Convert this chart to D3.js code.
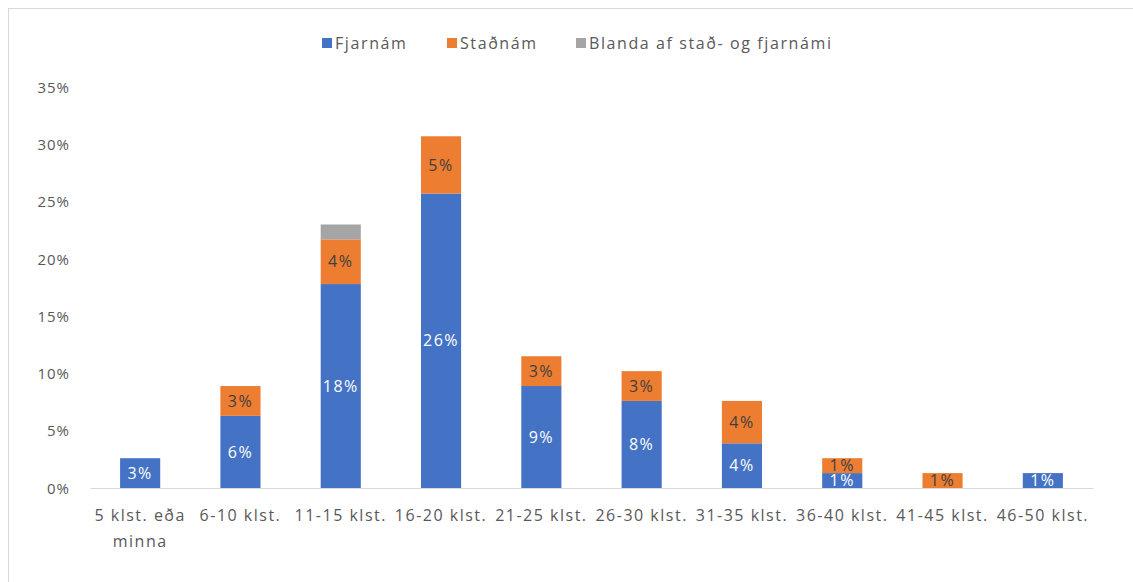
<!DOCTYPE html>
<meta charset="utf-8">
<style>
  body { margin: 0; background: #fff; }
  text { font-family: "Open Sans", "Noto Sans", sans-serif; }
</style>
<svg width="1133" height="582"></svg>
<script src="https://cdn.jsdelivr.net/npm/d3@7"></script>
<script>

var categories = ["5 klst. eða minna", "6-10 klst.", "11-15 klst.", "16-20 klst.", "21-25 klst.",
                  "26-30 klst.", "31-35 klst.", "36-40 klst.", "41-45 klst.", "46-50 klst."];
var seriesNames = ["Fjarnám", "Staðnám", "Blanda af stað- og fjarnámi"];
var fjarnam = [2.6, 6.3, 17.8, 25.7, 8.9, 7.6, 3.9, 1.3, 0, 1.3];
var stadnam = [0, 2.6, 3.9, 5.0, 2.6, 2.6, 3.7, 1.3, 1.3, 0];
var blanda  = [0, 0, 1.3, 0, 0, 0, 0, 0, 0, 0];
var yTicks  = [0, 5, 10, 15, 20, 25, 30, 35];

var colors = ["#4472c4", "#ed7d31", "#a5a5a5"];
var labelColors = ["#ffffff", "#404040", "#404040"];

var svg = d3.select("svg");

svg.append("rect")
    .attr("x", 8.5).attr("y", 8.5)
    .attr("width", 1200).attr("height", 700)
    .attr("fill", "#fff")
    .attr("stroke", "#d9d9d9");

var margin = {left: 90, right: 40, top: 87, bottom: 94},
    width = 1133 - margin.left - margin.right,
    height = 582 - margin.top - margin.bottom;

var g = svg.append("g").attr("transform", "translate(" + margin.left + "," + margin.top + ")");

var x = d3.scaleBand().domain(categories).range([0, width]).paddingInner(0.6).paddingOuter(0.3);
var y = d3.scaleLinear().domain([0, 35]).range([height, 0]);

var table = categories.map(function(c, i) {
    return {cat: c, "Fjarnám": fjarnam[i], "Staðnám": stadnam[i], "Blanda af stað- og fjarnámi": blanda[i]};
});
var stacked = d3.stack().keys(seriesNames)(table);

// y axis labels only
var yAxis = g.append("g").call(d3.axisLeft(y).tickValues(yTicks).tickFormat(function(d) { return d + "%"; }).tickSize(0).tickPadding(20));
yAxis.select(".domain").remove();
yAxis.selectAll("text").attr("fill", "#595959").style("font-size", "15px").style("letter-spacing", "1px").attr("dy", "0.35em");

var layers = g.selectAll(".layer").data(stacked).enter().append("g")
    .attr("fill", function(d, i) { return colors[i]; });

layers.selectAll("rect").data(function(d) { return d; }).enter().append("rect")
    .filter(function(d) { return d[1] - d[0] > 0; })
    .attr("x", function(d) { return x(d.data.cat); })
    .attr("width", x.bandwidth())
    .attr("y", function(d) { return y(d[1]); })
    .attr("height", function(d) { return y(d[0]) - y(d[1]); });

// x axis
var xAxis = g.append("g").attr("transform", "translate(0," + height + ")")
    .call(d3.axisBottom(x).tickSize(0).tickPadding(22));
xAxis.select(".domain").attr("stroke", "#d9d9d9");
xAxis.selectAll("text").attr("fill", "#595959").style("font-size", "16px").style("letter-spacing", "1.5px")
    .each(function(d) {
        var t = d3.select(this);
        if (d === "5 klst. eða minna") {
            t.text(null);
            t.append("tspan").attr("x", 0).text("5 klst. eða");
            t.append("tspan").attr("x", 0).attr("dy", "1.6em").text("minna");
        }
    });

// data labels
layers.each(function(s, si) {
    d3.select(this).selectAll("text.lbl").data(s.filter(function(d) { return d[1] - d[0] > 0; }))
        .enter().append("text")
        .filter(function() { return si < 2; })
        .attr("class", "lbl")
        .attr("x", function(d) { return x(d.data.cat) + x.bandwidth() / 2; })
        .attr("y", function(d) { return (y(d[0]) + y(d[1])) / 2; })
        .attr("dy", "0.35em")
        .attr("text-anchor", "middle")
        .attr("fill", labelColors[si])
        .style("font-size", "16px")
        .style("letter-spacing", "1.5px")
        .text(function(d) { return Math.round(d[1] - d[0]) + "%"; });
});

// legend
var legend = svg.append("g").attr("transform", "translate(322,43)");
var legendX = [0, 125, 254];
seriesNames.forEach(function(n, i) {
    var lg = legend.append("g").attr("transform", "translate(" + legendX[i] + ",0)");
    lg.append("rect").attr("x", 0).attr("y", -5).attr("width", 10).attr("height", 10).attr("fill", colors[i]);
    lg.append("text").attr("x", 13).attr("dy", "0.35em").attr("fill", "#595959")
        .style("font-size", "16px").style("letter-spacing", "1.6px").text(n);
});

</script>
